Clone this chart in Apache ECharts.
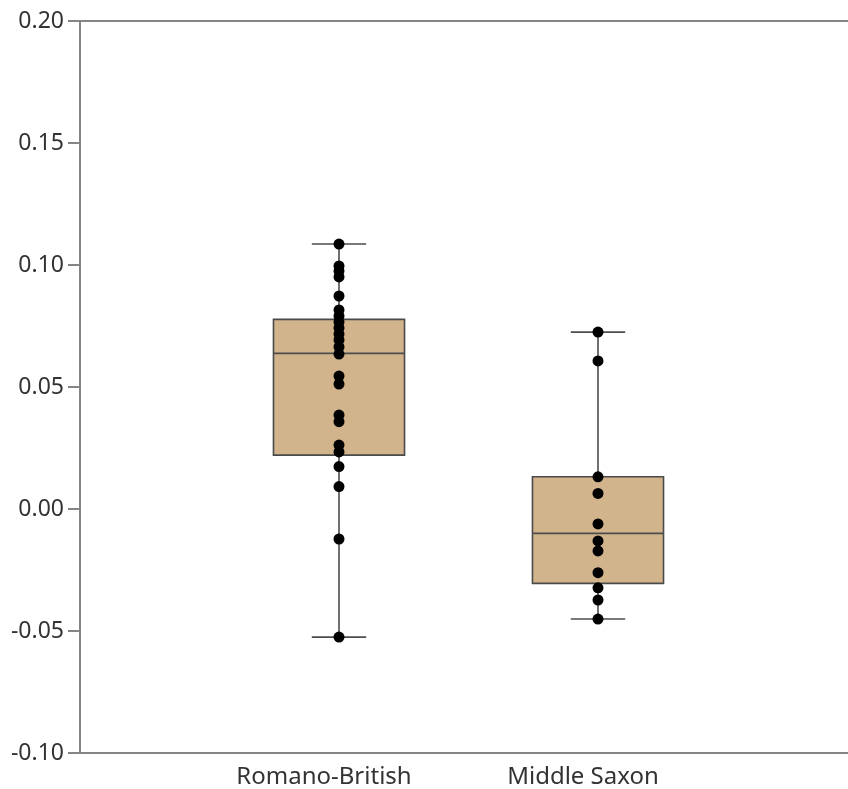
<!DOCTYPE html>
<html>
<head>
<meta charset="utf-8">
<script src="https://cdn.jsdelivr.net/npm/echarts@6/dist/echarts.min.js"></script>
<style>
  html, body { margin: 0; padding: 0; background: #ffffff; overflow: hidden; }
  /* the plot frame runs on past the right edge of the window */
  #chart { width: 900px; height: 789px; }
</style>
</head>
<body>
<div id="chart"></div>
<script>
// Groups along the x axis
var categories = ['Romano-British', 'Middle Saxon'];

// Five-number summaries: [min, Q1, median, Q3, max]
var romanoBritishStats = [-0.0525, 0.0221, 0.0638, 0.0777, 0.1086];
var middleSaxonStats = [-0.0451, -0.0305, -0.0100, 0.0132, 0.0725];

// Individual observations
var romanoBritishPoints = [
  0.1086, 0.0996, 0.0975, 0.0951, 0.0873, 0.0816, 0.0791, 0.0766,
  0.0742, 0.0717, 0.0693, 0.0664, 0.0635, 0.0545, 0.0512, 0.0385,
  0.0358, 0.0262, 0.0234, 0.0174, 0.0092, -0.0123, -0.0525
];
var middleSaxonPoints = [
  0.0725, 0.0607, 0.0132, 0.0064, -0.0061, -0.0131, -0.0172,
  -0.0261, -0.0323, -0.0373, -0.0451
];

// Y axis ticks
var yTicks = [-0.10, -0.05, 0.00, 0.05, 0.10, 0.15, 0.20];

var stats = [romanoBritishStats, middleSaxonStats];
var boxData = stats.map(function (s, i) { return [i + 1].concat(s); });

var pointData = [];
romanoBritishPoints.forEach(function (v) { pointData.push([1, v]); });
middleSaxonPoints.forEach(function (v) { pointData.push([2, v]); });

var chart = echarts.init(document.getElementById('chart'), null, { renderer: 'canvas' });

function renderBox(params, api) {
  var x = api.value(0);
  var pMin = api.coord([x, api.value(1)]);
  var pQ1 = api.coord([x, api.value(2)]);
  var pMed = api.coord([x, api.value(3)]);
  var pQ3 = api.coord([x, api.value(4)]);
  var pMax = api.coord([x, api.value(5)]);
  var unit = api.size([1, 0])[0];
  var halfBox = unit * 0.253;
  var halfCap = unit * 0.105;
  var cx = pMin[0];
  var lineStyle = { stroke: '#4d4d4d', lineWidth: 1.6, fill: null };
  return {
    type: 'group',
    children: [
      { type: 'line', shape: { x1: cx, y1: pMax[1], x2: cx, y2: pMin[1] }, style: lineStyle },
      { type: 'line', shape: { x1: cx - halfCap, y1: pMax[1], x2: cx + halfCap, y2: pMax[1] }, style: lineStyle },
      { type: 'line', shape: { x1: cx - halfCap, y1: pMin[1], x2: cx + halfCap, y2: pMin[1] }, style: lineStyle },
      {
        type: 'rect',
        shape: { x: cx - halfBox, y: pQ3[1], width: halfBox * 2, height: pQ1[1] - pQ3[1] },
        style: { fill: '#d2b48c', stroke: '#4a4a4a', lineWidth: 1.6 }
      },
      { type: 'line', shape: { x1: cx - halfBox, y1: pMed[1], x2: cx + halfBox, y2: pMed[1] }, style: lineStyle }
    ]
  };
}

var axisLineStyle = { color: '#858585', width: 2 };

var option = {
  animation: false,
  backgroundColor: '#ffffff',
  textStyle: { fontFamily: 'Noto Sans' },
  grid: {
    left: 80,
    top: 21,
    right: 43,
    bottom: 36,
    show: false
  },
  xAxis: [
    {
      type: 'value',
      position: 'bottom',
      min: 0,
      max: 3,
      interval: 1,
      splitLine: { show: false },
      axisLine: { show: true, onZero: false, lineStyle: axisLineStyle },
      axisTick: { show: false },
      axisLabel: {
        fontSize: 24,
        color: '#333333',
        margin: 12,
        padding: [0, 30, 0, 0],
        formatter: function (v) {
          var idx = Math.round(v) - 1;
          return (v === Math.round(v) && categories[idx]) ? categories[idx] : '';
        }
      }
    },
    {
      // top frame line
      type: 'value',
      position: 'top',
      min: 0,
      max: 3,
      splitLine: { show: false },
      axisLine: { show: true, onZero: false, lineStyle: axisLineStyle },
      axisTick: { show: false },
      axisLabel: { show: false }
    }
  ],
  yAxis: {
    type: 'value',
    min: yTicks[0],
    max: yTicks[yTicks.length - 1],
    interval: 0.05,
    splitLine: { show: false },
    axisLine: { show: true, onZero: false, lineStyle: axisLineStyle },
    axisTick: { show: true, length: 12, lineStyle: axisLineStyle },
    axisLabel: {
      fontSize: 23,
      color: '#333333',
      margin: 16,
      formatter: function (v) { return v.toFixed(2); }
    }
  },
  series: [
    {
      type: 'custom',
      renderItem: renderBox,
      data: boxData,
      encode: { x: 0, y: [1, 2, 3, 4, 5] },
      z: 2
    },
    {
      type: 'scatter',
      data: pointData,
      symbol: 'circle',
      symbolSize: 11,
      itemStyle: { color: '#000000', opacity: 1 },
      z: 3
    }
  ]
};

chart.setOption(option);
</script>
</body>
</html>
